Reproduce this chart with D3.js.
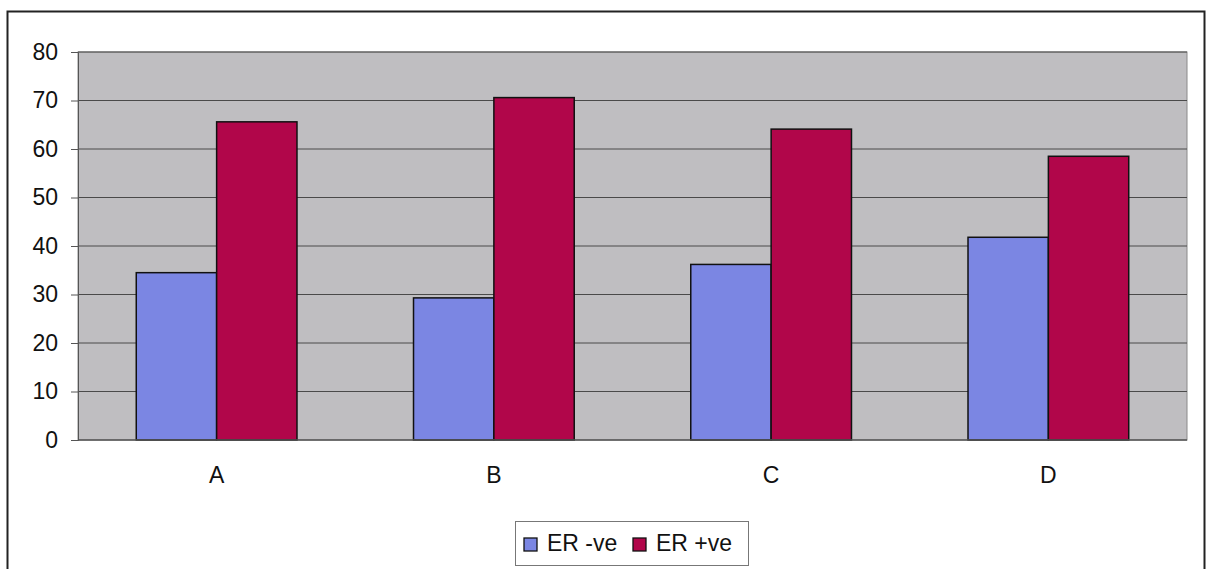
<!DOCTYPE html>
<html><head><meta charset="utf-8">
<script src="https://cdn.jsdelivr.net/npm/d3@7"></script>
<style>body{margin:0;background:#fff}svg{display:block}</style>
</head><body>
<script>
const categories = ["A", "B", "C", "D"];
const seriesNames = ["ER -ve", "ER +ve"];
const erNeg = [34.5, 29.3, 36.2, 41.8];
const erPos = [65.6, 70.6, 64.1, 58.5];
const yTicks = [0, 10, 20, 30, 40, 50, 60, 70, 80];
const colors = ["#7b86e3", "#b1064a"];

(function () {
const W = 1207, H = 569;
const svg = d3.select("body").append("svg").attr("width", W).attr("height", H);
const font = "Arial, 'Liberation Sans', sans-serif";
const fs = 23;

// outer chart border
svg.append("rect").attr("x", 7.5).attr("y", 11.5).attr("width", 1197).attr("height", 570)
  .attr("fill", "#fff").attr("stroke", "#222").attr("stroke-width", 2);

const pLeft = 78, pRight = 1187, pTop = 52, pBottom = 440;
const x0 = d3.scaleBand().domain(categories).range([pLeft, pRight]).paddingInner(0).paddingOuter(0);
const y = d3.scaleLinear().domain([0, 80]).range([pBottom, pTop]);
const bw = x0.bandwidth() / 3.45;
const x1 = d3.scaleBand().domain(seriesNames).range([0, bw * 2]);

// plot background
svg.append("rect").attr("x", pLeft).attr("y", pTop).attr("width", pRight - pLeft).attr("height", pBottom - pTop)
  .attr("fill", "#bfbec1").attr("stroke", "#8a8a8a").attr("stroke-width", 1);

// gridlines
svg.append("g").selectAll("line").data(yTicks.filter(d => d > 0)).join("line")
  .attr("x1", pLeft).attr("x2", pRight)
  .attr("y1", d => y(d)).attr("y2", d => y(d))
  .attr("stroke", "#4a4a4a").attr("stroke-width", 1);

// y axis
const yAxis = svg.append("g").attr("transform", `translate(${pLeft},0)`)
  .call(d3.axisLeft(y).tickValues(yTicks).tickSize(7).tickPadding(13));
yAxis.select(".domain").attr("stroke", "#555");
yAxis.selectAll(".tick line").attr("stroke", "#555");
yAxis.selectAll("text").attr("font-family", font).attr("font-size", fs).attr("fill", "#111");

// bars
const data = categories.map((c, i) => ({cat: c, vals: [erNeg[i], erPos[i]]}));
const g = svg.append("g").selectAll("g").data(data).join("g")
  .attr("transform", d => `translate(${x0(d.cat) + (x0.bandwidth() - bw * 2) / 2},0)`);
g.selectAll("rect").data(d => d.vals.map((v, j) => ({name: seriesNames[j], v, j}))).join("rect")
  .attr("x", d => x1(d.name)).attr("width", x1.bandwidth())
  .attr("y", d => y(d.v)).attr("height", d => y(0) - y(d.v))
  .attr("fill", d => colors[d.j]).attr("stroke", "#111").attr("stroke-width", 1.5);

// x axis baseline
svg.append("line").attr("x1", pLeft).attr("x2", pRight).attr("y1", pBottom).attr("y2", pBottom)
  .attr("stroke", "#555").attr("stroke-width", 1.5);
const xAxis = svg.append("g").attr("transform", `translate(0,${pBottom})`)
  .call(d3.axisBottom(x0).tickSize(0).tickPadding(27));
xAxis.select(".domain").remove();
xAxis.selectAll("text").attr("font-family", font).attr("font-size", fs).attr("fill", "#111").attr("dy", "0.71em");

// legend
const lg = svg.append("g");
lg.append("rect").attr("x", 515.5).attr("y", 521.5).attr("width", 233).attr("height", 44)
  .attr("fill", "#fff").attr("stroke", "#777").attr("stroke-width", 1);
const items = [{n: seriesNames[0], c: colors[0], x: 524}, {n: seriesNames[1], c: colors[1], x: 633}];
items.forEach(it => {
  lg.append("rect").attr("x", it.x).attr("y", 538).attr("width", 13).attr("height", 13)
    .attr("fill", it.c).attr("stroke", "#111").attr("stroke-width", 1.3);
  lg.append("text").attr("x", it.x + 23).attr("y", 551).text(it.n)
    .attr("font-family", font).attr("font-size", fs).attr("fill", "#111");
});
})();
</script>
</body></html>
